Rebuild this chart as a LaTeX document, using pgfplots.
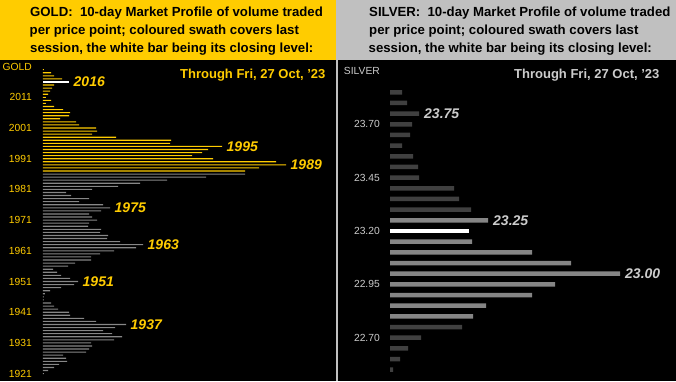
\documentclass[border=0pt]{standalone}
\usepackage{fontspec}
\setmainfont{Liberation Sans}
\usepackage{pgfplots}
\pgfplotsset{compat=1.18}
\definecolor{goldY}{HTML}{FFCC00}
\definecolor{goldGray}{HTML}{878787}
\definecolor{silHead}{HTML}{C0C0C0}
\definecolor{silDark}{HTML}{404040}
\definecolor{silLight}{HTML}{858585}
\definecolor{silText}{HTML}{CCCCCC}
\begin{document}
\begin{tikzpicture}[x=1pt,y=1pt]
\fill[black] (0,0) rectangle (676,381);
\fill[goldY] (0,321) rectangle (336,381);
\fill[silHead] (336,321) rectangle (676,381);
\fill[silHead] (335.5,0) rectangle (337.5,321);
\begin{scope}[every node/.style={anchor=base west, inner sep=0pt, font=\fontsize{13.2}{16}\selectfont\bfseries, text=black}]
\node at (30,364.3) {GOLD:~~10-day Market Profile of volume traded};
\node at (29.5,346) {per price point; coloured swath covers last};
\node at (30,328) {session, the white bar being its closing level:};
\node at (369,364.3) {SILVER:~~10-day Market Profile of volume traded};
\node at (369,346) {per price point; coloured swath covers last};
\node at (368.5,328) {session, the white bar being its closing level:};
\end{scope}
\node[anchor=base west, inner sep=0pt, font=\fontsize{13}{13}\selectfont\bfseries, text=goldY] at (180,302.7) {Through Fri, 27 Oct, '23};
\node[anchor=base west, inner sep=0pt, font=\fontsize{13}{13}\selectfont\bfseries, text=silText] at (514,302.7) {Through Fri, 27 Oct, '23};

% GOLD panel
\begin{axis}[at={(43pt,0pt)}, anchor=south west, scale only axis,
  width=292pt, height=321pt, xmin=0, xmax=292, ymin=1918.59, ymax=2023.15,
  clip=false, axis line style={draw=none}, tick style={draw=none}, xtick=\empty,
  ytick={1921,1931,...,2011},
  yticklabels={1921,1931,1941,1951,1961,1971,1981,1991,2001,2011},
  extra y ticks={2020.9}, extra y tick labels={GOLD},
  yticklabel style={font=\fontsize{10.3}{12}\selectfont, text=goldY, inner sep=0pt, anchor=east, xshift=-11pt}]
\addplot[xbar, bar shift=0pt, bar width=1.1pt, fill=goldY, draw=none] coordinates {
(1,2020) (8,2019) (11,2018) (19,2017) (11,2015) (9,2014) (7,2013) (5,2012) (3,2011) (8,2010)
(3,2009) (11,2008) (20,2007) (27,2006) (26,2005) (17,2004) (33,2003) (36,2002) (53,2001) (54,2000)
(49,1999) (73,1998) (128,1997) (127,1996) (179,1995) (165,1994) (159,1993) (149,1992) (170,1991)
(233,1990) (243,1989) (216,1988) (202,1987)};
\addplot[xbar, bar shift=0pt, bar width=1.1pt, fill=white, draw=none] coordinates {(26,2016)};
\addplot[xbar, bar shift=0pt, bar width=1.1pt, fill=goldGray, draw=none] coordinates {
(202,1986) (163,1985) (124,1984) (97,1983) (75,1982) (49,1981) (23,1980) (28,1979) (46,1978) (36,1977)
(60,1976) (67,1975) (58,1974) (46,1973) (49,1972) (54,1971) (46,1970) (45,1969) (58,1968) (57,1967)
(65,1966) (64,1965) (77,1964) (100,1963) (93,1962) (71,1961) (57,1960) (48,1959) (48,1958) (32,1957)
(25,1956) (10,1955) (14,1954) (18,1953) (27,1952) (35,1951) (31,1950) (18,1949) (7,1948) (2,1947)
(1,1946) (1,1945) (8,1944) (11,1943) (15,1942) (26,1941) (27,1940) (41,1939) (53,1938) (83,1937)
(72,1936) (60,1935) (69,1934) (79,1933) (71,1932) (48,1931) (49,1930) (46,1929) (43,1928) (20,1927)
(23,1926) (24,1925) (16,1924) (11,1923) (5,1922) (1,1921)};
\begin{scope}[every node/.style={anchor=west, inner sep=0pt, font=\fontsize{14}{14}\selectfont\bfseries\itshape, text=goldY}]
\node at (axis cs:30.5,2016) {2016};
\node at (axis cs:183.5,1995) {1995};
\node at (axis cs:247.5,1989) {1989};
\node at (axis cs:71.5,1975) {1975};
\node at (axis cs:104.5,1963) {1963};
\node at (axis cs:39.5,1951) {1951};
\node at (axis cs:87.5,1937) {1937};
\end{scope}
\end{axis}

% SILVER panel
\begin{axis}[at={(390pt,0pt)}, anchor=south west, scale only axis,
  width=286pt, height=321pt, xmin=0, xmax=286, ymin=22.4971, ymax=24.0013,
  clip=false, axis line style={draw=none}, tick style={draw=none}, xtick=\empty,
  ytick={22.70,22.95,23.20,23.45,23.70},
  yticklabels={22.70,22.95,23.20,23.45,23.70},
  extra y ticks={23.951}, extra y tick labels={SILVER},
  yticklabel style={font=\fontsize{10.3}{12}\selectfont, text=silText, inner sep=0pt, anchor=east, xshift=-10pt}]
\addplot[xbar, bar shift=0pt, bar width=4.5pt, fill=silDark, draw=none] coordinates {
(12,23.85) (17,23.80) (29,23.75) (22,23.70) (20,23.65) (12,23.60) (23,23.55) (28,23.50) (29,23.45)
(64,23.40) (69,23.35) (81,23.30) (72,22.75) (31,22.70) (18,22.65) (10,22.60) (3,22.55)};
\addplot[xbar, bar shift=0pt, bar width=4.5pt, fill=silLight, draw=none] coordinates {
(98,23.25) (82,23.15) (142,23.10) (181,23.05) (230,23.00) (165,22.95) (142,22.90) (96,22.85) (83,22.80)};
\addplot[xbar, bar shift=0pt, bar width=4.5pt, fill=white, draw=none] coordinates {(79,23.20)};
\begin{scope}[every node/.style={anchor=west, inner sep=0pt, font=\fontsize{14}{14}\selectfont\bfseries\itshape, text=silText}]
\node at (axis cs:34,23.75) {23.75};
\node at (axis cs:103,23.25) {23.25};
\node at (axis cs:235,23.00) {23.00};
\end{scope}
\end{axis}
\pgfresetboundingbox
\useasboundingbox (0,0) rectangle (676,381);
\end{tikzpicture}
\end{document}
